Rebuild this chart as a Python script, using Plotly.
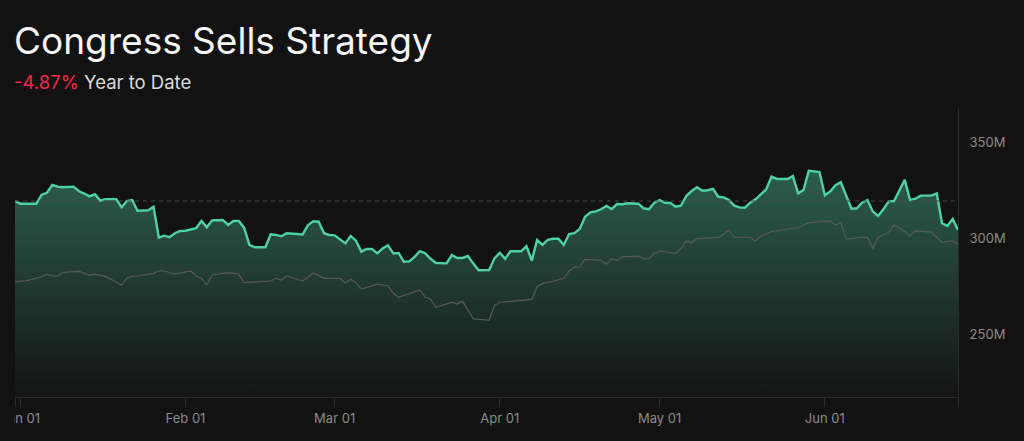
import plotly.graph_objects as go


# Strategy value (millions of dollars).
strategy_dates = [
    "2024-12-31", "2025-01-01", "2025-01-04", "2025-01-05", "2025-01-06",
    "2025-01-07", "2025-01-08", "2025-01-09", "2025-01-11", "2025-01-12",
    "2025-01-13", "2025-01-14", "2025-01-15", "2025-01-16", "2025-01-17",
    "2025-01-19", "2025-01-20", "2025-01-21", "2025-01-22", "2025-01-23",
    "2025-01-25", "2025-01-26", "2025-01-27", "2025-01-28", "2025-01-29",
    "2025-01-30", "2025-01-31", "2025-02-01", "2025-02-03", "2025-02-04",
    "2025-02-05", "2025-02-06", "2025-02-08", "2025-02-09", "2025-02-10",
    "2025-02-11", "2025-02-12", "2025-02-13", "2025-02-14", "2025-02-16",
    "2025-02-17", "2025-02-18", "2025-02-19", "2025-02-20", "2025-02-23",
    "2025-02-24", "2025-02-25", "2025-02-26", "2025-02-27", "2025-02-28",
    "2025-03-01", "2025-03-02", "2025-03-03", "2025-03-04", "2025-03-05",
    "2025-03-06", "2025-03-07", "2025-03-08", "2025-03-09", "2025-03-10",
    "2025-03-11", "2025-03-12", "2025-03-13", "2025-03-14", "2025-03-15",
    "2025-03-16", "2025-03-17", "2025-03-18", "2025-03-19", "2025-03-20",
    "2025-03-22", "2025-03-23", "2025-03-24", "2025-03-25", "2025-03-26",
    "2025-03-27", "2025-03-28", "2025-03-30", "2025-03-31", "2025-04-01",
    "2025-04-02", "2025-04-03", "2025-04-05", "2025-04-06", "2025-04-07",
    "2025-04-08", "2025-04-09", "2025-04-10", "2025-04-11", "2025-04-12",
    "2025-04-13", "2025-04-14", "2025-04-15", "2025-04-16", "2025-04-17",
    "2025-04-18", "2025-04-19", "2025-04-20", "2025-04-21", "2025-04-22",
    "2025-04-23", "2025-04-24", "2025-04-25", "2025-04-27", "2025-04-28",
    "2025-04-29", "2025-04-30", "2025-05-01", "2025-05-02", "2025-05-03",
    "2025-05-04", "2025-05-05", "2025-05-06", "2025-05-07", "2025-05-08",
    "2025-05-09", "2025-05-10", "2025-05-11", "2025-05-12", "2025-05-13",
    "2025-05-14", "2025-05-15", "2025-05-16", "2025-05-17", "2025-05-18",
    "2025-05-19", "2025-05-20", "2025-05-21", "2025-05-22", "2025-05-23",
    "2025-05-25", "2025-05-26", "2025-05-27", "2025-05-28", "2025-05-29",
    "2025-05-31", "2025-06-01", "2025-06-02", "2025-06-03", "2025-06-04",
    "2025-06-06", "2025-06-07", "2025-06-08", "2025-06-09", "2025-06-10",
    "2025-06-11", "2025-06-12", "2025-06-13", "2025-06-14", "2025-06-16",
    "2025-06-17", "2025-06-18", "2025-06-19", "2025-06-21", "2025-06-22",
    "2025-06-23", "2025-06-24", "2025-06-25", "2025-06-26",
]
strategy_values = [
    319.4, 318.0, 318.0, 322.7, 323.7,
    327.8, 326.9, 326.6, 326.9, 324.5,
    323.3, 321.8, 322.9, 319.6, 320.4,
    320.4, 316.1, 319.4, 319.9, 314.3,
    314.6, 316.4, 300.3, 301.3, 300.5,
    302.6, 303.8, 303.9, 305.2, 309.0,
    305.7, 309.3, 309.5, 306.9, 309.0,
    309.0, 305.5, 296.5, 295.3, 295.3,
    302.0, 301.7, 301.0, 302.6, 302.0,
    306.9, 308.8, 308.6, 302.6, 301.7,
    301.5, 299.6, 297.3, 301.1, 298.7,
    293.0, 294.4, 294.4, 292.1, 294.7,
    296.3, 292.1, 292.3, 287.7, 287.9,
    290.3, 293.2, 292.1, 289.3, 287.1,
    286.9, 291.2, 289.7, 289.7, 290.7,
    286.9, 283.3, 283.4, 289.5, 292.4,
    289.3, 293.2, 293.2, 295.9, 288.3,
    299.1, 296.5, 299.1, 299.7, 299.7,
    296.5, 302.2, 302.6, 304.8, 311.2,
    313.5, 314.0, 315.1, 316.8, 315.2,
    317.8, 317.7, 318.2, 318.0, 315.6,
    315.1, 318.5, 319.9, 318.5, 318.4,
    316.4, 317.0, 322.0, 324.6, 326.6,
    324.8, 325.0, 325.7, 321.6, 321.3,
    319.9, 317.0, 316.1, 315.9, 318.5,
    320.3, 323.1, 325.5, 332.1, 330.9,
    330.9, 332.4, 323.4, 325.1, 335.1,
    334.5, 322.4, 324.3, 327.6, 329.2,
    315.4, 315.6, 318.5, 319.9, 314.0,
    311.6, 315.1, 319.2, 319.4, 330.4,
    319.9, 320.6, 322.2, 322.2, 323.4,
    307.8, 306.4, 310.0, 304.3,
]

# Benchmark line (grey), same scale.
benchmark_dates = [
    "2024-12-31", "2025-01-02", "2025-01-05", "2025-01-06", "2025-01-07",
    "2025-01-08", "2025-01-09", "2025-01-12", "2025-01-14", "2025-01-15",
    "2025-01-17", "2025-01-20", "2025-01-21", "2025-01-22", "2025-01-23",
    "2025-01-26", "2025-01-27", "2025-01-28", "2025-01-30", "2025-02-02",
    "2025-02-03", "2025-02-04", "2025-02-05", "2025-02-06", "2025-02-09",
    "2025-02-10", "2025-02-11", "2025-02-12", "2025-02-15", "2025-02-17",
    "2025-02-18", "2025-02-19", "2025-02-20", "2025-02-23", "2025-02-25",
    "2025-02-27", "2025-03-02", "2025-03-03", "2025-03-04", "2025-03-05",
    "2025-03-06", "2025-03-09", "2025-03-11", "2025-03-12", "2025-03-13",
    "2025-03-17", "2025-03-18", "2025-03-19", "2025-03-20", "2025-03-23",
    "2025-03-24", "2025-03-25", "2025-03-27", "2025-03-30", "2025-03-31",
    "2025-04-01", "2025-04-07", "2025-04-08", "2025-04-09", "2025-04-10",
    "2025-04-13", "2025-04-14", "2025-04-15", "2025-04-16", "2025-04-17",
    "2025-04-20", "2025-04-21", "2025-04-22", "2025-04-23", "2025-04-24",
    "2025-04-27", "2025-04-28", "2025-04-29", "2025-04-30", "2025-05-01",
    "2025-05-04", "2025-05-05", "2025-05-06", "2025-05-07", "2025-05-08",
    "2025-05-12", "2025-05-13", "2025-05-14", "2025-05-15", "2025-05-18",
    "2025-05-19", "2025-05-20", "2025-05-22", "2025-05-26", "2025-05-27",
    "2025-05-28", "2025-05-29", "2025-06-02", "2025-06-03", "2025-06-04",
    "2025-06-05", "2025-06-09", "2025-06-10", "2025-06-11", "2025-06-13",
    "2025-06-14", "2025-06-15", "2025-06-17", "2025-06-18", "2025-06-21",
    "2025-06-23", "2025-06-25", "2025-06-26",
]
benchmark_values = [
    277.3, 277.8, 279.9, 281.3, 280.3,
    280.3, 282.2, 282.7, 280.6, 281.3,
    280.1, 275.6, 279.1, 280.1, 280.3,
    281.7, 283.0, 282.9, 281.3, 282.9,
    280.3, 279.1, 275.6, 280.8, 282.0,
    281.5, 281.3, 276.8, 277.5, 277.7,
    279.1, 278.2, 280.4, 277.7, 281.8,
    279.1, 279.1, 276.5, 278.6, 276.8,
    273.5, 276.0, 275.2, 271.3, 269.2,
    273.0, 269.2, 268.3, 264.0, 266.7,
    265.7, 267.2, 258.0, 257.2, 265.0,
    266.6, 268.1, 274.7, 276.3, 276.8,
    279.1, 282.9, 284.8, 285.1, 289.0,
    288.5, 286.4, 289.3, 288.3, 290.3,
    290.7, 289.3, 289.3, 292.1, 293.2,
    292.1, 294.7, 298.5, 297.7, 299.9,
    300.3, 302.0, 304.3, 300.6, 300.5,
    298.5, 301.1, 303.4, 305.2, 305.2,
    306.9, 308.1, 309.0, 306.9, 308.1,
    299.7, 300.5, 294.7, 300.3, 303.2,
    306.9, 305.5, 301.3, 303.8, 303.2,
    297.8, 298.7, 296.8,
]

x_tick_dates = ["2024-12-31", "2025-01-01", "2025-02-01", "2025-03-01",
                "2025-04-01", "2025-05-01", "2025-06-01", "2025-06-26"]
x_tick_labels = ["", "Jan 01", "Feb 01", "Mar 01", "Apr 01", "May 01",
                 "Jun 01", ""]
y_tick_values = [250, 300, 350]
y_tick_labels = ["250M", "300M", "350M"]

title_text = "Congress Sells Strategy"
ytd_text = "-4.87%"

BG = "#121212"
AXIS = "#2b2b2b"
TICK_FONT = dict(family="Inter, Roboto, sans-serif", size=13, color="#8a8a8a")

fig = go.Figure()

# Strategy area first; the benchmark line goes on top of its fill.
fig.add_trace(go.Scatter(
        x=strategy_dates,
        y=strategy_values,
        mode="lines",
        line=dict(color="#4fd1a7", width=2.4),
        fill="tozeroy",
        fillgradient=dict(
            type="vertical",
            start=217,
            stop=336,
            colorscale=[[0, "#141414"], [1, "#2c5e4e"]])))

fig.add_trace(go.Scatter(
        x=benchmark_dates,
        y=benchmark_values,
        mode="lines",
        line=dict(color="#5a5a5a", width=1.2),
        hoverinfo="skip"))

# Dashed line at the starting value.
fig.add_shape(
        type="line",
        xref="paper", x0=0, x1=1,
        yref="y", y0=strategy_values[0], y1=strategy_values[0],
        line=dict(color="#4a4a4a", width=1, dash="4px,4px"),
        layer="above")

# Hide the part of the first tick label that falls left of the plot.
fig.add_shape(
        type="rect",
        xref="paper", x0=-0.05, x1=-0.0005,
        yref="paper", y0=-0.2, y1=-0.001,
        fillcolor=BG, line=dict(width=0),
        layer="above")

fig.add_annotation(
        text=title_text,
        xref="paper", x=0, xanchor="left", xshift=-3,
        yref="paper", y=1.235, yanchor="middle",
        showarrow=False,
        font=dict(family="Inter, sans-serif", size=37, color="#f5f5f5"))
fig.add_annotation(
        text=("<span style='color:#f2284e'>" + ytd_text + "</span>"
              " <span style='color:#dcdcdc'>Year to Date</span>"),
        xref="paper", x=0, xanchor="left", xshift=-3,
        yref="paper", y=1.09, yanchor="middle",
        showarrow=False,
        font=dict(family="Inter, sans-serif", size=18.5))

fig.update_layout(
        width=1024,
        height=441,
        margin=dict(l=15, r=66, t=108, b=44),
        paper_bgcolor=BG,
        plot_bgcolor=BG,
        showlegend=False,
        xaxis=dict(
            type="date",
            range=["2024-12-31", "2025-06-26"],
            tickmode="array",
            tickvals=x_tick_dates,
            ticktext=x_tick_labels,
            ticklabeloverflow="allow",
            automargin=False,
            ticks="outside",
            ticklen=9,
            tickcolor=AXIS,
            showline=True,
            linecolor=AXIS,
            showgrid=False,
            zeroline=False,
            tickfont=TICK_FONT),
        yaxis=dict(
            side="right",
            range=[217.2, 367.9],
            tickmode="array",
            tickvals=y_tick_values,
            ticktext=y_tick_labels,
            automargin=False,
            ticks="",
            ticklabelstandoff=8,
            showline=True,
            linecolor=AXIS,
            showgrid=False,
            zeroline=False,
            tickfont=TICK_FONT))

# Drop the browser's default page margin so the chart fills the window.
fig.write_html(
        "out.html",
        config={"displayModeBar": False},
        post_script="document.body.style.margin = '0';")
